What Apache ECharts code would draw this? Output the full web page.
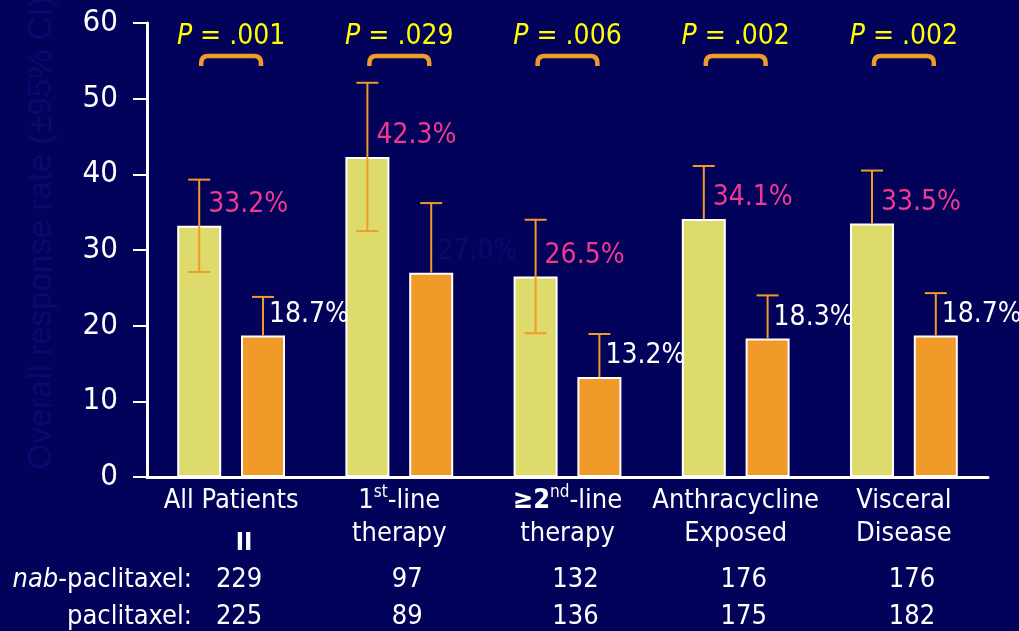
<!DOCTYPE html>
<html><head><meta charset="utf-8">
<script src="https://cdn.jsdelivr.net/npm/echarts@6/dist/echarts.min.js"></script>
<style>html,body{margin:0;padding:0;background:#02025a;} #c{width:1019px;height:631px;}</style>
</head><body><div id="c"></div>
<script>
// ---------- data ----------
const categories = ['All Patients', '1{sup|st}-line\ntherapy', '{b|≥2}{sup|nd}-line\ntherapy', 'Anthracycline\nExposed', 'Visceral\nDisease'];
const nabRate = [33.2, 42.3, 26.5, 34.1, 33.5];
const pacRate = [18.7, 27.0, 13.2, 18.3, 18.7];
const nabCiLow = [27.1, 32.5, 19.0, 27.1, 26.5];
const nabCiHigh = [39.3, 52.1, 34.0, 41.1, 40.5];
const pacCiLow = [13.6, 17.8, 7.5, 12.6, 13.0];
const pacCiHigh = [23.8, 36.2, 18.9, 24.0, 24.3];
const nabLowerWhiskerShown = [true, true, true, false, false];
const pacLowerWhiskerShown = [false, false, false, false, false];
const pValues = ['.001', '.029', '.006', '.002', '.002'];
const nabN = [229, 97, 132, 176, 176];
const pacN = [225, 89, 136, 175, 182];
const rowLabels = ['{i|nab}-paclitaxel:', 'paclitaxel:'];
const yTitle = 'Overall response rate (±95% CI)';

// ---------- styles ----------
const FONT = '"DejaVu Sans Condensed", "DejaVu Sans", sans-serif';
const BG = '#02025a';
const YELLOW = '#DEDB6D';
const ORANGE = '#F09A2A';
const PINK = '#F2388F';
const FAINT = '#09096f';
const pacLabelColors = ['#ffffff', FAINT, '#ffffff', '#ffffff', '#ffffff'];
const nabLabelColors = [PINK, PINK, PINK, PINK, PINK];
const BAR_W = 44, BAR_GAP_PCT = 45;
const BAR_OFFSET = (BAR_W + BAR_W * BAR_GAP_PCT / 100) / 2;
const CAP = 11;

const chart = echarts.init(document.getElementById('c'), null, {renderer: 'canvas'});

function errRender(lows, highs, lowerShown, side, labelColors, labelDx) {
  return function (params, api) {
    const i = api.value(0);
    const v = api.value(1), lo = api.value(2), hi = api.value(3);
    const pTop = api.coord([i, hi]);
    const pBase = api.coord([i, v]);
    const pLow = api.coord([i, lo]);
    const x = pTop[0] + side * BAR_OFFSET;
    const yBottom = lowerShown[i] ? pLow[1] : pBase[1];
    const ls = {stroke: ORANGE, lineWidth: 2};
    const children = [
      {type: 'line', shape: {x1: x, y1: pTop[1], x2: x, y2: yBottom}, style: ls},
      {type: 'line', shape: {x1: x - CAP, y1: pTop[1], x2: x + CAP, y2: pTop[1]}, style: ls}
    ];
    if (lowerShown[i]) {
      children.push({type: 'line', shape: {x1: x - CAP, y1: pLow[1], x2: x + CAP, y2: pLow[1]}, style: ls});
    }
    children.push({
      type: 'text', x: x + labelDx, y: pBase[1] - 21,
      style: {text: v.toFixed(1) + '%', fill: labelColors[i], font: '28px ' + FONT, align: 'left', verticalAlign: 'middle'}
    });
    return {type: 'group', children};
  };
}

const option = {
  backgroundColor: BG,
  animation: false,
  grid: {left: 147, right: 31, top: 23, bottom: 154, containLabel: false},
  xAxis: {
    type: 'category', data: categories,
    axisLine: {show: true, lineStyle: {color: '#fff', width: 3}},
    axisTick: {show: false},
    axisLabel: {
      interval: 0, color: '#fff', fontSize: 27, fontFamily: FONT, lineHeight: 33, margin: 7,
      rich: {
        sup: {fontSize: 17, fontFamily: FONT, color: '#fff', verticalAlign: 'top', lineHeight: 19},
        b: {fontSize: 27, fontFamily: FONT, color: '#fff', fontWeight: 'bold', lineHeight: 33}
      }
    }
  },
  yAxis: {
    type: 'value', min: 0, max: 60, interval: 10,
    axisLine: {show: true, lineStyle: {color: '#fff', width: 3}},
    axisTick: {show: true, length: 14, lineStyle: {color: '#fff', width: 2}},
    axisLabel: {color: '#fff', fontSize: 31, fontFamily: FONT, margin: 29},
    splitLine: {show: false}
  },
  series: [
    {type: 'bar', name: 'nab-paclitaxel', data: nabRate, barWidth: BAR_W, barGap: BAR_GAP_PCT + '%',
      itemStyle: {color: YELLOW, borderColor: '#fff', borderWidth: 2}, z: 2},
    {type: 'bar', name: 'paclitaxel', data: pacRate, barWidth: BAR_W,
      itemStyle: {color: ORANGE, borderColor: '#fff', borderWidth: 2}, z: 2},
    {type: 'custom', name: 'nab CI', z: 5, encode: {x: 0, y: 1},
      data: nabRate.map((v, i) => [i, v, nabCiLow[i], nabCiHigh[i]]),
      renderItem: errRender(nabCiLow, nabCiHigh, nabLowerWhiskerShown, -1, nabLabelColors, 9)},
    {type: 'custom', name: 'pac CI', z: 5, encode: {x: 0, y: 1},
      data: pacRate.map((v, i) => [i, v, pacCiLow[i], pacCiHigh[i]]),
      renderItem: errRender(pacCiLow, pacCiHigh, pacLowerWhiskerShown, 1, pacLabelColors, 6)},
    {type: 'custom', name: 'P values', z: 6, encode: {x: 0, y: 1},
      data: pValues.map((p, i) => [i, 60]),
      renderItem: function (params, api) {
        const i = api.value(0);
        const c = api.coord([i, api.value(1)]);
        const x1 = c[0] - BAR_OFFSET + 2, x2 = c[0] + BAR_OFFSET - 2;
        const yT = c[1] + 33, yB = c[1] + 43, r = 7;
        const w = x2 - x1, h = yB - yT;
        return {type: 'group', children: [
          {type: 'text', x: c[0], y: c[1] + 14,
            style: {text: '{i|P} = ' + pValues[i], fill: '#FFFF00', font: '28px ' + FONT, align: 'center', verticalAlign: 'middle',
              rich: {i: {fontStyle: 'italic', fontSize: 28, fontFamily: FONT, fill: '#FFFF00'}}}},
          {type: 'path', shape: {pathData: 'M0 ' + h + ' L0 ' + r + ' Q0 0 ' + r + ' 0 L' + (w - r) + ' 0 Q' + w + ' 0 ' + w + ' ' + r + ' L' + w + ' ' + h,
            x: x1, y: yT, width: w, height: h, layout: 'cover'},
            style: {stroke: ORANGE, lineWidth: 4.5, fill: null}}
        ]};
      }},
    {type: 'custom', name: 'n table', z: 6, encode: {x: 0, y: 1},
      data: nabN.map((n, i) => [i, 0, n, pacN[i]]),
      renderItem: function (params, api) {
        const i = api.value(0);
        const c = api.coord([i, 0]);
        const x = c[0] + 8;
        return {type: 'group', children: [
          {type: 'text', x: x, y: 580, style: {text: String(api.value(2)), fill: '#fff', font: '27px ' + FONT, align: 'center', verticalAlign: 'middle'}},
          {type: 'text', x: x, y: 617, style: {text: String(api.value(3)), fill: '#fff', font: '27px ' + FONT, align: 'center', verticalAlign: 'middle'}}
        ]};
      }}
  ],
  graphic: [
    {type: 'text', x: 42, y: 233, rotation: Math.PI / 2,
      style: {text: yTitle, fill: FAINT, font: '33px "Liberation Sans", Arial, sans-serif', align: 'center', verticalAlign: 'middle'}},
    {type: 'text', x: 192, y: 580,
      style: {text: rowLabels[0], fill: '#fff', font: '27px ' + FONT, align: 'right', verticalAlign: 'middle',
        rich: {i: {fontStyle: 'italic', fontSize: 27, fontFamily: FONT, fill: '#fff'}}}},
    {type: 'text', x: 192, y: 617,
      style: {text: rowLabels[1], fill: '#fff', font: '27px ' + FONT, align: 'right', verticalAlign: 'middle'}},
    {type: 'text', x: 244, y: 543,
      style: {text: 'II', fill: '#fff', font: 'bold 25px ' + FONT, align: 'center', verticalAlign: 'middle'}}
  ]
};
chart.setOption(option);
</script>
</body></html>
